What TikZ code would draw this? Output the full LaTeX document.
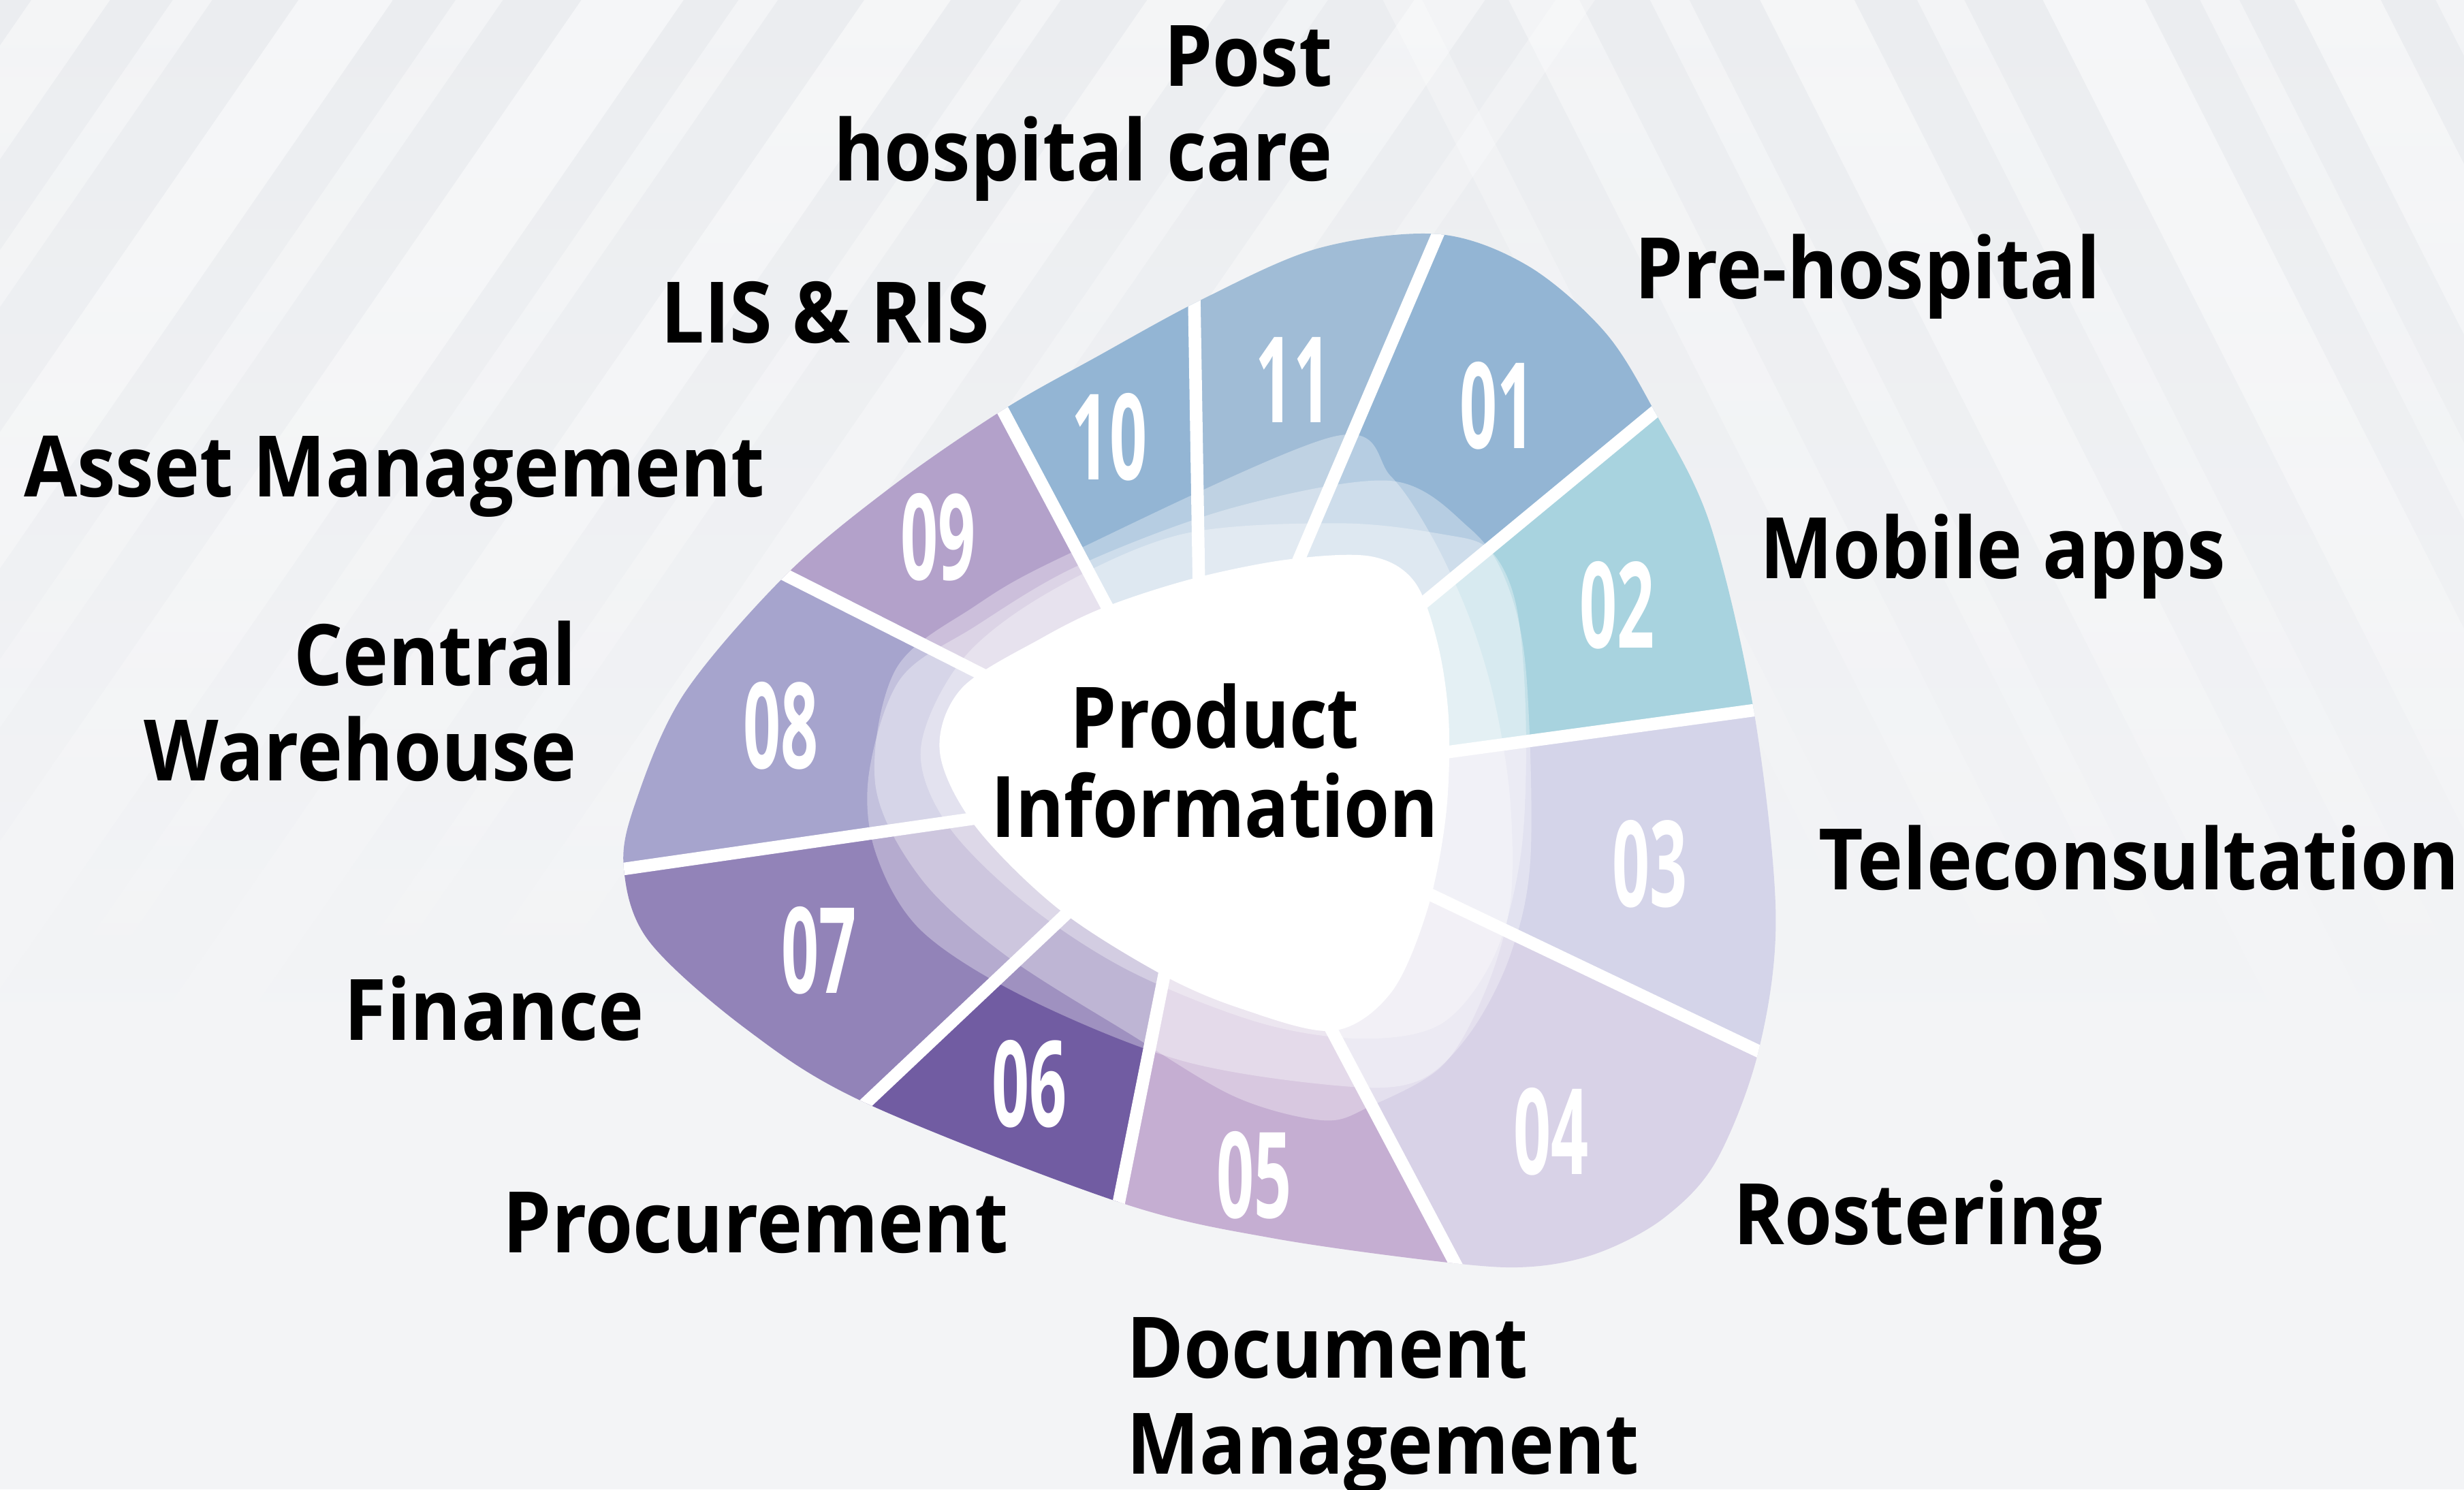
\documentclass[tikz,border=0pt]{standalone}
\usepackage{fontspec}
\setmainfont{Open Sans}
\usetikzlibrary{calc}
\definecolor{bgc}{HTML}{EBEDF0}
\definecolor{bgl}{HTML}{F3F4F6}
\definecolor{c01}{HTML}{93B5D4}
\definecolor{c02}{HTML}{A8D3DF}
\definecolor{c03}{HTML}{D4D4E9}
\definecolor{c04}{HTML}{D8D2E7}
\definecolor{c05}{HTML}{C5AED2}
\definecolor{c06}{HTML}{715CA2}
\definecolor{c07}{HTML}{9283B8}
\definecolor{c08}{HTML}{A6A4CD}
\definecolor{c09}{HTML}{B3A1CA}
\definecolor{c10}{HTML}{93B5D4}
\definecolor{c11}{HTML}{A0BCD6}
\newcommand{\lb}[1]{\scalebox{0.91}[1]{#1}}
\newcommand{\lc}[1]{\scalebox{0.87}[1]{#1}}
\newcommand{\nm}[1]{\scalebox{0.55}[1]{#1}}
\begin{document}
\begin{tikzpicture}[x=1pt,y=-1pt,
  lbl/.style={font=\fontsize{54}{60}\selectfont\bfseries, inner sep=0pt, text=black},
  num/.style={font=\fontsize{76}{76}\selectfont\bfseries, inner sep=0pt, text=white},
  divider/.style={white, line width=8pt},
  veil/.style={fill=white, fill opacity=0.33}]
\useasboundingbox (0,0) rectangle (1568,948);
% background
\fill[bgl] (0,0) rectangle (1568,948);
\shade[top color=bgc, bottom color=bgl] (0,0) rectangle (1568,680);
\begin{scope}
  \clip (0,0) rectangle (1568,680);
  \foreach \x/\w/\o in {-450/50/0.45,-360/25/0.4,-280/60/0.55,-180/30/0.4,-100/65/0.55,0/25/0.4,80/55/0.5,180/25/0.4,260/50/0.45,350/25/0.35,430/45/0.4,520/25/0.3}{
    \shade[top color=white, bottom color=bgl, opacity=\o] (\x,680) -- (\x+\w,680) -- (\x+\w+470,0) -- (\x+470,0) -- cycle;
  }
  \foreach \x/\w/\o in {880/25/0.3,960/45/0.4,1050/25/0.4,1120/60/0.5,1220/30/0.4,1300/65/0.55,1400/25/0.4,1460/55/0.5,1550/25/0.4,1610/45/0.4}{
    \shade[top color=white, bottom color=bgl, opacity=\o] (\x,0) -- (\x+\w,0) -- (\x+\w+345,680) -- (\x+345,680) -- cycle;
  }
\end{scope}
% segment geometry
\coordinate (C) at (765,500);
\coordinate (d1) at (915,149);
\coordinate (d2) at (1053,262);
\coordinate (d3) at (1116,452);
\coordinate (d4) at (1119,669);
\coordinate (d5) at (926,804);
\coordinate (d6) at (712,765);
\coordinate (d7) at (551,702);
\coordinate (d8) at (397,553);
\coordinate (d9) at (500,366);
\coordinate (d10) at (638,261);
\coordinate (d11) at (760,192);
\foreach \i in {1,...,11}{ \coordinate (e\i) at ($(C)!1.6!(d\i)$); }
\begin{scope}
  \clip plot[smooth cycle, tension=0.55] coordinates {
    (766,190) (839,158) (915,149) (972,169) (1021,211) (1053,262) (1088,333)
    (1116,452) (1130,582) (1119,669) (1092,739) (1059,775) (1018,797) (976,806)
    (926,804) (810,788) (712,765) (551,702) (475,655) (413,599) (397,553) (404,512)
    (435,442) (500,366) (567,310) (638,261) (698,227)};
  \fill[c11] (C) -- (e11) -- (e1) -- cycle;
  \fill[c01] (C) -- (e1) -- (e2) -- cycle;
  \fill[c02] (C) -- (e2) -- (e3) -- cycle;
  \fill[c03] (C) -- (e3) -- (e4) -- cycle;
  \fill[c04] (C) -- (e4) -- (e5) -- cycle;
  \fill[c05] (C) -- (e5) -- (e6) -- cycle;
  \fill[c06] (C) -- (e6) -- (e7) -- cycle;
  \fill[c07] (C) -- (e7) -- (e8) -- cycle;
  \fill[c08] (C) -- (e8) -- (e9) -- cycle;
  \fill[c09] (C) -- (e9) -- (e10) -- cycle;
  \fill[c10] (C) -- (e10) -- (e11) -- cycle;
  \foreach \i in {1,...,11}{ \draw[divider] (C) -- (e\i); }
\end{scope}
% translucent veils
\fill[veil] plot[smooth cycle, tension=0.55] coordinates {
  (679,353) (848,278) (885,303) (912,343) (935,393) (951,446) (961,509) (961,575)
  (945,631) (918,678) (872,704) (842,713) (786,698) (719,658) (640,608) (586,559)
  (557,499) (570,426) (620,386)};
\fill[veil] plot[smooth cycle, tension=0.55] coordinates {
  (785,323) (885,306) (935,336) (958,369) (971,426) (974,545) (961,608) (935,658)
  (902,688) (852,691) (752,675) (653,635) (586,592) (557,542) (553,492) (573,432)
  (620,399) (686,360)};
\fill[veil] plot[smooth cycle, tension=0.55] coordinates {
  (752,340) (852,333) (918,340) (948,350) (965,386) (971,459) (968,542) (951,608)
  (918,651) (868,661) (802,651) (719,618) (653,575) (603,525) (586,476) (613,419)
  (669,376)};
% center blob
\fill[white] plot[smooth cycle, tension=0.55] coordinates {
  (663,406) (704,386) (760,368) (820,356) (872,354) (900,370) (915,410) (922,460)
  (920,520) (908,580) (885,632) (848,656) (790,642) (739,620) (673,578) (620,525)
  (598,478) (612,438)};
\node[lbl, anchor=base] (prod) at (773,476) {\lc{Product}};
\node[lbl, anchor=base] (info) at (773,533) {\lc{Information}};
% numbers
\node[num] (n01) at (953,258) {\nm{01}};
\node[num] (n02) at (1029,385) {\nm{02}};
\node[num] (n03) at (1050,550) {\nm{03}};
\node[num] (n04) at (987,720) {\nm{04}};
\node[num] (n05) at (798,748) {\nm{05}};
\node[num] (n06) at (655,690) {\nm{06}};
\node[num] (n07) at (521,605) {\nm{07}};
\node[num] (n08) at (497,462) {\nm{08}};
\node[num] (n09) at (597,342) {\nm{09}};
\node[num] (n10) at (706,278) {\nm{10}};
\node[num] (n11) at (823,242) {\nm{11}};
% labels
\node[lbl, anchor=base east] (post1) at (848,55) {\lb{Post}};
\node[lbl, anchor=base east] (post2) at (848,115) {\lb{hospital care}};
\node[lbl, anchor=base west] (pre) at (1040,190) {\lb{Pre-hospital}};
\node[lbl, anchor=base east] (lis) at (630,218) {\lb{LIS \& RIS}};
\node[lbl, anchor=base east] (asset) at (487,316) {\lb{Asset Management}};
\node[lbl, anchor=base west] (mob) at (1120,368) {\lb{Mobile apps}};
\node[lbl, anchor=base east] (cen1) at (367,436) {\lb{Central}};
\node[lbl, anchor=base east] (cen2) at (367,497) {\lb{Warehouse}};
\node[lbl, anchor=base west] (tele) at (1157,566) {\lb{Teleconsultation}};
\node[lbl, anchor=base east] (fin) at (410,662) {\lb{Finance}};
\node[lbl, anchor=base west] (ros) at (1103,792) {\lb{Rostering}};
\node[lbl, anchor=base west] (proc) at (320,797) {\lb{Procurement}};
\node[lbl, anchor=base west] (doc1) at (717,877) {\lb{Document}};
\node[lbl, anchor=base west] (doc2) at (717,938) {\lb{Management}};
\end{tikzpicture}
\end{document}
